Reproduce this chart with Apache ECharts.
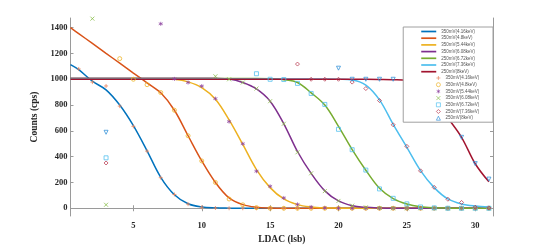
<!DOCTYPE html>
<html>
<head>
<meta charset="utf-8">
<script src="https://cdn.jsdelivr.net/npm/echarts@6/dist/echarts.min.js"></script>
<style>html,body{margin:0;padding:0;background:#fff}#c{width:545px;height:250px}</style>
</head>
<body>
<div id="c"></div>
<script>
// ---- data ----
var lineNames = ['350mV(4.16keV)','350mV(4.8keV)','350mV(5.44keV)','350mV(6.08keV)','250mV(6.72keV)','250mV(7.36keV)','250mV(8keV)'];
var fitX = [0.4,1,2,3,4,5,6,7,8,9,10,11,12,13,14,15,16,17,18,19,20,21,22,23,24,25,26,27,28,29,30,31];
var fit416 = [1114,1075,985,918,800,640,445,240,105,35,10,3,1,0,0,0,0,0,0,0,0,0,0,0,0,0,0,0,0,0,0,0];
var fit48  = [1400,1354,1278,1201,1125,1048,972,895,760,562,367,200,80,28,8,2,0,0,0,0,0,0,0,0,0,0,0,0,0,0,0,0];
var fit544 = [1005,1005,1005,1005,1005,1005,1005,1004,1000,980,935,845,685,495,300,160,72,28,10,3,1,0,0,0,0,0,0,0,0,0,0,0];
var fit608 = [1008,1008,1008,1008,1008,1008,1008,1008,1008,1008,1008,1007,1002,975,925,830,655,440,270,135,57,20,7,2,0,0,0,0,0,0,0,0];
var fit672 = [1006,1006,1006,1006,1006,1006,1006,1006,1006,1006,1006,1006,1006,1006,1006,1004,997,975,895,800,635,455,295,155,75,33,12,4,1,0,0,0];
var fit736 = [1003,1003,1003,1003,1003,1003,1003,1003,1003,1003,1003,1003,1003,1003,1003,1003,1003,1003,1003,1002,1000,995,955,840,650,472,292,160,72,33,17,10];
var fit8   = [1000,1000,1000,1000,1000,1000,1000,1000,1000,1000,1000,1000,1000,1000,1000,1000,1000,1000,1000,1000,1000,1000,1000,999,997,990,950,850,700,550,345,205];

var ptX = [1,2,3,4,5,6,7,8,9,10,11,12,13,14,15,16,17,18,19,20,21,22,23,24,25,26,27,28,29,30,31];
var pt416 = [1080,978,948,792,635,443,237,107,32,8,2,0,0,0,0,0,0,0,0,0,0,0,0,0,0,0,0,0,0,0,0];
var pt48  = [null,null,null,1160,1000,958,897,760,562,367,200,72,27,5,0,0,0,0,0,0,0,0,0,0,0,0,0,0,0,0,0];
var pt544 = [null,null,null,null,null,null,1430,1003,975,947,850,672,500,287,170,80,30,10,3,0,0,0,0,0,0,0,0,0,0,0,0];
var pt608 = [null,1470,27,null,null,null,null,null,null,null,1023,1000,975,928,830,655,434,271,133,57,20,7,2,0,0,0,0,0,0,0,0];
var pt672 = [null,null,391,null,null,null,null,null,null,null,null,null,null,1043,1000,998,968,890,805,612,454,296,150,77,34,10,3,0,0,0,0];
var pt736 = [null,null,351,null,null,null,null,null,null,null,null,null,null,null,null,null,1118,1000,1000,1000,978,928,835,647,480,290,162,70,45,8,3];
var pt8   = [null,null,589,null,null,null,null,null,null,null,null,null,null,null,null,null,null,null,null,1086,1000,1000,1000,1000,985,930,840,685,550,346,226];

var xTicks = [5,10,15,20,25,30];
var yTicks = [0,200,400,600,800,1000,1200,1400];

// ---- styles ----
var lineColors = ['#0072BD','#D95319','#EDB120','#7E2F8E','#77AC30','#4DBEEE','#A2142F'];
var markColors = ['#E8825A','#EDB120','#8E44A0','#86BC46','#4DBEEE','#B8384F','#2F8FD8'];
var markSymbols = [
  'path://M0,5L10,5M5,0L5,10',
  'circle',
  'path://M5,0L5,10M0.7,2.5L9.3,7.5M0.7,7.5L9.3,2.5',
  'path://M0,0L10,10M0,10L10,0',
  'rect',
  'diamond',
  'triangle'
];
var fits = [fit416, fit48, fit544, fit608, fit672, fit736, fit8];
var pts = [pt416, pt48, pt544, pt608, pt672, pt736, pt8];

function pair(xs, ys){ var o=[]; for(var i=0;i<xs.length;i++){ if(ys[i]!==null) o.push([xs[i], ys[i]]);} return o; }

var series = [];
var legendLines = [];
var legendPts = [];
for (var i=0;i<7;i++){
  series.push({
    name: lineNames[i], type:'line', data: pair(fitX, fits[i]), smooth: 0.35,
    symbol:'none', showSymbol:false, clip:true,
    lineStyle:{color: lineColors[i], width:1.5}, itemStyle:{color: lineColors[i]}, z: 2
  });
  legendLines.push({name: lineNames[i], icon: 'path://M0,0L30,0L30,3.4L0,3.4Z'});
}
for (var j=0;j<7;j++){
  var st = {color:'rgba(255,255,255,0)', borderColor: markColors[j], borderWidth: 0.9, opacity: 0.85};
  series.push({
    name: lineNames[j]+' ', type:'scatter', data: pair(ptX, pts[j]),
    symbol: markSymbols[j], symbolSize: 4, symbolRotate: j===6 ? 180 : 0,
    itemStyle: st, z: 3
  });
  legendPts.push({name: lineNames[j]+' ', icon: markSymbols[j],
    itemStyle:{color:'rgba(255,255,255,0)', borderColor: markColors[j], borderWidth: 0.8}});
}

var lab = {fontFamily:'Liberation Serif', fontWeight:'bold', fontSize:8.5, color:'#262626'};
var axisLine = {show:true, lineStyle:{color:'#9a9a9a', width:1}};
var legText = {fontFamily:'Liberation Sans', fontSize:4.5, lineHeight:5, color:'#555'};

var option = {
  animation:false,
  backgroundColor:'#fff',
  grid:{left:70.5, right:52, top:18, bottom:28, containLabel:false},
  xAxis:[{
    type:'value', min:0.4, max:31.3, position:'bottom',
    axisLine: axisLine, splitLine:{show:false},
    axisTick:{inside:true, length:3, customValues:xTicks, lineStyle:{color:'#9a9a9a'}},
    axisLabel:Object.assign({margin:5, customValues:xTicks, formatter:function(v){return String(v);}}, lab),
    name:'LDAC (lsb)', nameLocation:'middle', nameGap:19,
    nameTextStyle:{fontFamily:'Liberation Serif', fontWeight:'bold', fontSize:9.5, color:'#262626'}
  },{
    type:'value', min:0.4, max:31.3, position:'top',
    axisLine: axisLine, splitLine:{show:false},
    axisTick:{inside:true, length:3, customValues:xTicks, lineStyle:{color:'#9a9a9a'}},
    axisLabel:{show:false}
  }],
  yAxis:[{
    type:'value', min:-60, max:1475, position:'left',
    axisLine: axisLine, splitLine:{show:false},
    axisTick:{inside:true, length:3, customValues:yTicks, lineStyle:{color:'#9a9a9a'}},
    axisLabel:Object.assign({margin:3, customValues:yTicks, formatter:function(v){return String(v);}}, lab),
    name:'Counts (cps)', nameLocation:'middle', nameGap:25, nameRotate:90,
    nameTextStyle:{fontFamily:'Liberation Serif', fontWeight:'bold', fontSize:9.5, color:'#262626'}
  },{
    type:'value', min:-60, max:1475, position:'right',
    axisLine: axisLine, splitLine:{show:false},
    axisTick:{inside:true, length:3, customValues:yTicks, lineStyle:{color:'#9a9a9a'}},
    axisLabel:{show:false}
  }],
  legend:[{
    orient:'vertical', right:52, top:27,
    data: legendLines,
    backgroundColor:'#fff', borderColor:'#a0a0a0', borderWidth:1,
    padding:[2,18,48,18], itemGap:1.7, itemWidth:15, itemHeight:5, itemTextGap:1,
    textStyle:legText, selectedMode:false, z:10
  },{
    orient:'vertical', left:436, top:75.5,
    data: legendPts,
    padding:0, itemGap:1.7, itemWidth:4, itemHeight:4, itemTextGap:6,
    textStyle:legText, selectedMode:false, z:11
  }],
  series: series
};
echarts.init(document.getElementById('c'), null, {renderer:'canvas'}).setOption(option);
</script>
</body>
</html>
